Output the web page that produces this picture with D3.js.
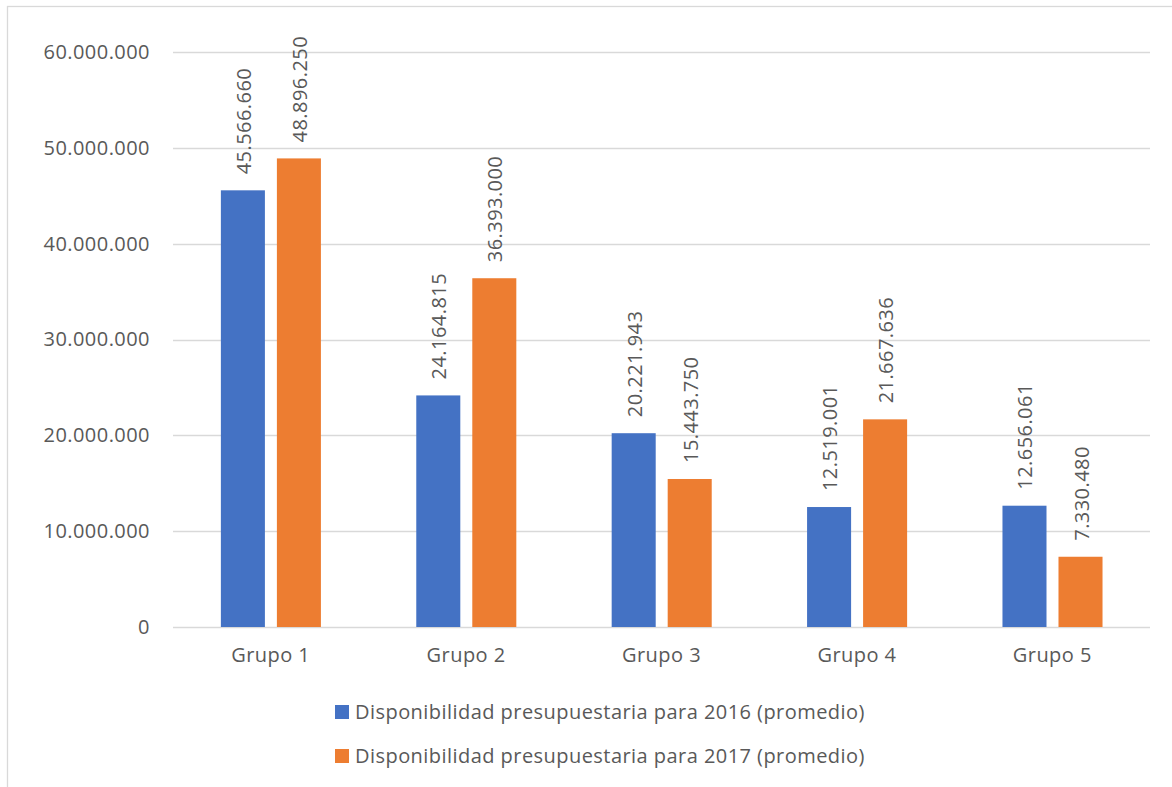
<!DOCTYPE html>
<html><head><meta charset="utf-8">
<script src="https://cdn.jsdelivr.net/npm/d3@7"></script>
<style>body{margin:0;background:#fff}svg{display:block}text{font-family:"Open Sans",sans-serif;fill:#595959;letter-spacing:0.45px}</style>
</head><body>
<script>
const categories = ["Grupo 1","Grupo 2","Grupo 3","Grupo 4","Grupo 5"];
const seriesNames = ["Disponibilidad presupuestaria para 2016 (promedio)","Disponibilidad presupuestaria para 2017 (promedio)"];
const values2016 = [45566660, 24164815, 20221943, 12519001, 12656061];
const values2017 = [48896250, 36393000, 15443750, 21667636, 7330480];
const yTicks = [0,10000000,20000000,30000000,40000000,50000000,60000000];
const colors = ["#4472C4","#ED7D31"];

const W=1172,H=787;
const svg=d3.select("body").append("svg").attr("width",W).attr("height",H);
svg.append("rect").attr("x",7.5).attr("y",6.5).attr("width",W).attr("height",H).attr("fill","none").attr("stroke","#d9d9d9").attr("stroke-width",1.3);

const loc=d3.formatLocale({decimal:",",thousands:".",grouping:[3],currency:["",""]});
const fmt=loc.format(",d");
const y=d3.scaleLinear().domain([0,60000000]).range([627,52]);
const x0=d3.scaleBand().domain(categories).range([173,1150]).padding(0);
const x1=d3.scaleBand().domain([0,1]).range([x0.bandwidth()*0.245,x0.bandwidth()*0.757]).paddingInner(0.214);

const FS=20;
svg.append("g").selectAll("line").data(yTicks).join("line")
 .attr("x1",173).attr("x2",1150).attr("y1",d=>Math.round(y(d))+0.5).attr("y2",d=>Math.round(y(d))+0.5)
 .attr("stroke","#d9d9d9").attr("stroke-width",1.3);
const yAxis=d3.axisLeft(y).tickValues(yTicks).tickFormat(fmt).tickSize(0).tickPadding(23);
const gy=svg.append("g").attr("transform","translate(173,0)").call(yAxis);
gy.select(".domain").remove();
gy.selectAll("text").style("font-size",FS+"px").attr("fill","#595959");

const xAxis=d3.axisBottom(x0).tickSize(0).tickPadding(21);
const gx=svg.append("g").attr("transform","translate(0,627)").call(xAxis);
gx.select(".domain").remove();
gx.selectAll("text").style("font-size",FS+"px").attr("fill","#595959");

const series=[values2016,values2017];
series.forEach((vals,si)=>{
  const g=svg.append("g");
  g.selectAll("rect").data(vals).join("rect")
   .attr("x",(d,i)=>x0(categories[i])+x1(si)).attr("width",x1.bandwidth())
   .attr("y",d=>y(d)).attr("height",d=>y(0)-y(d)).attr("fill",colors[si]);
  g.selectAll("text").data(vals).join("text")
   .attr("transform",(d,i)=>`translate(${x0(categories[i])+x1(si)+x1.bandwidth()/2+8},${y(d)-16}) rotate(-90)`)
   .style("font-size",FS+"px").text(d=>fmt(d));
});

const lg=svg.append("g");
seriesNames.forEach((n,i)=>{
  lg.append("rect").attr("x",335).attr("y",705+i*44).attr("width",14).attr("height",14).attr("fill",colors[i]);
  lg.append("text").attr("x",355).attr("y",719+i*44).style("font-size",FS+"px").text(n);
});
</script>
</body></html>
